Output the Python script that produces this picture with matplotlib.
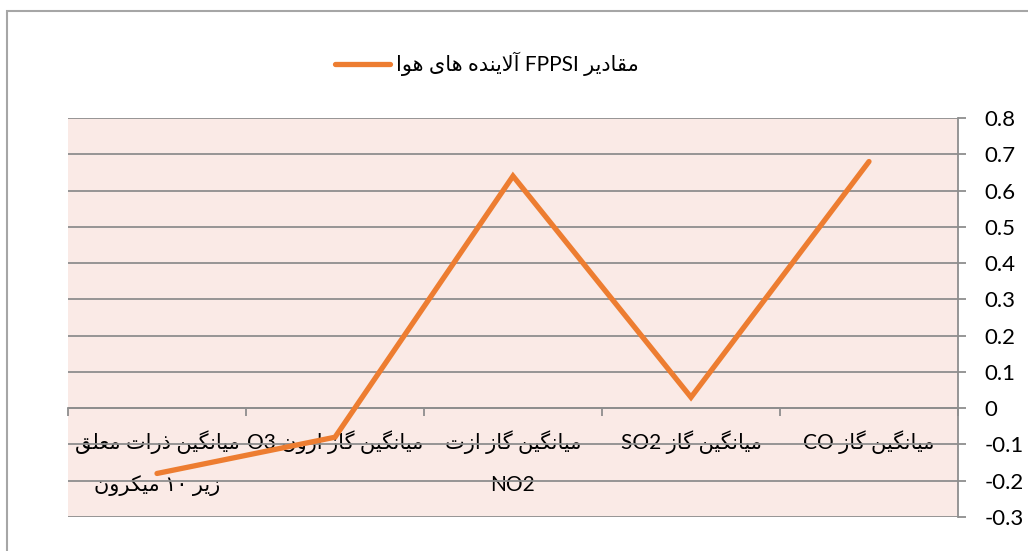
import matplotlib
matplotlib.use('Agg')
import matplotlib.pyplot as plt
import matplotlib.patches as mpatches
from matplotlib.lines import Line2D

# categories in the chart's own right-to-left order (first one sits at the right)
CATEGORIES = [
    'میانگین گاز CO',
    'میانگین گاز SO2',
    'میانگین گاز ازت\nNO2',
    'میانگین گاز ازون O3',
    'میانگین ذرات معلق\nزیر ۱۰ میکرون',
]
VALUES = [0.68, 0.03, 0.64, -0.08, -0.18]
SERIES_NAME = 'مقادیر FPPSI آلاینده های هوا'
YTICKS = [-0.3, -0.2, -0.1, 0, 0.1, 0.2, 0.3, 0.4, 0.5, 0.6, 0.7, 0.8]
YTICK_LABELS = ['-0.3', '-0.2', '-0.1', '0', '0.1', '0.2', '0.3',
                '0.4', '0.5', '0.6', '0.7', '0.8']

ORANGE = '#ED7D31'
GRAY = '#8E8E8E'
PINK = '#FAEAE6'

# matplotlib has no arabic shaping, so join the letters by hand
# (isolated, final, initial, medial); two forms = letter does not join to the left
FORMS = {
    'ا': ('\uFE8D', '\uFE8E'),
    'آ': ('\uFE81', '\uFE82'),
    'د': ('\uFEA9', '\uFEAA'),
    'ذ': ('\uFEAB', '\uFEAC'),
    'ر': ('\uFEAD', '\uFEAE'),
    'ز': ('\uFEAF', '\uFEB0'),
    'و': ('\uFEED', '\uFEEE'),
    'لا': ('\uFEFB', '\uFEFC'),
    'لآ': ('\uFEF5', '\uFEF6'),
    'ت': ('\uFE95', '\uFE96', '\uFE97', '\uFE98'),
    'ع': ('\uFEC9', '\uFECA', '\uFECB', '\uFECC'),
    'ق': ('\uFED5', '\uFED6', '\uFED7', '\uFED8'),
    'ک': ('\uFB8E', '\uFB8F', '\uFB90', '\uFB91'),
    'گ': ('\uFB92', '\uFB93', '\uFB94', '\uFB95'),
    'ل': ('\uFEDD', '\uFEDE', '\uFEDF', '\uFEE0'),
    'م': ('\uFEE1', '\uFEE2', '\uFEE3', '\uFEE4'),
    'ن': ('\uFEE5', '\uFEE6', '\uFEE7', '\uFEE8'),
    'ه': ('\uFEE9', '\uFEEA', '\uFEEB', '\uFEEC'),
    'ی': ('\uFBFC', '\uFBFD', '\uFBFE', '\uFBFF'),
}


def shape(word):
    toks = []
    i = 0
    while i < len(word):
        if word[i] == 'ل' and i + 1 < len(word) and word[i + 1] in 'اآ':
            toks.append(word[i:i + 2])
            i += 2
        else:
            toks.append(word[i])
            i += 1
    res = []
    for k, t in enumerate(toks):
        if t not in FORMS:
            res.append(t)
            continue
        f = FORMS[t]
        prev = k > 0 and toks[k - 1] in FORMS and len(FORMS[toks[k - 1]]) == 4
        nxt = len(f) == 4 and k + 1 < len(toks) and toks[k + 1] in FORMS
        if prev and nxt:
            res.append(f[3])
        elif prev:
            res.append(f[1])
        elif nxt:
            res.append(f[2])
        else:
            res.append(f[0])
    return ''.join(reversed(res))


def rtl(text):
    out = []
    for line in text.split('\n'):
        words = [shape(w) if any(c in FORMS for c in w) else w
                 for w in line.split(' ')]
        out.append(' '.join(reversed(words)))
    return '\n'.join(out)


plt.rcParams['font.family'] = ['Lato', 'DejaVu Sans']

fig = plt.figure(figsize=(10.28, 5.51), dpi=100)
ax = fig.add_axes([68 / 1028, 1 - 517 / 551, 890 / 1028, 399 / 551])
ax.set_facecolor(PINK)

x = range(len(VALUES))
ax.plot(x, VALUES, color=ORANGE, lw=3.8, solid_capstyle='round',
        solid_joinstyle='miter', zorder=3)

ax.set_xlim(len(VALUES) - 0.5, -0.5)
ax.set_ylim(-0.3, 0.8)

# horizontal axis sits on zero, with small ticks between categories
ax.spines['bottom'].set_position(('data', 0))
ax.spines['bottom'].set_color(GRAY)
ax.spines['bottom'].set_linewidth(1.3)
ax.spines['left'].set_visible(False)
ax.spines['top'].set_visible(False)
ax.spines['right'].set_color(GRAY)
ax.spines['right'].set_linewidth(1.3)

ax.set_xticks(list(x))
ax.set_xticklabels([rtl(c) for c in CATEGORIES], fontsize=15, linespacing=2.3,
                   va='top')
ax.set_xticks([i - 0.5 for i in range(len(VALUES) + 1)], minor=True)
ax.tick_params(axis='x', which='major', length=0, pad=16)
ax.tick_params(axis='x', which='minor', length=6, width=1.3, color=GRAY,
               direction='out')

ax.yaxis.tick_right()
ax.set_yticks(YTICKS)
ax.set_yticklabels(YTICK_LABELS, fontsize=16)
ax.tick_params(axis='y', length=6, width=1.3, color=GRAY, pad=13)

ax.yaxis.grid(True, color=GRAY, lw=1.3)
ax.set_axisbelow(True)

fig.legend(handles=[Line2D([], [], color=ORANGE, lw=3.8, solid_capstyle='round')],
           labels=[rtl(SERIES_NAME)], loc='center',
           bbox_to_anchor=(487 / 1028, 1 - 64 / 551), frameon=False,
           fontsize=15, handlelength=2.6, handletextpad=0.3)

# outer chart border (runs off the right and bottom edges)
fig.patches.append(mpatches.Rectangle((7 / 1028, -0.1), 1.2, 1.1 - 11 / 551,
                                      transform=fig.transFigure, fill=False,
                                      edgecolor='#A6A6A6', lw=1.5))

fig.savefig('out.png', dpi=100)
